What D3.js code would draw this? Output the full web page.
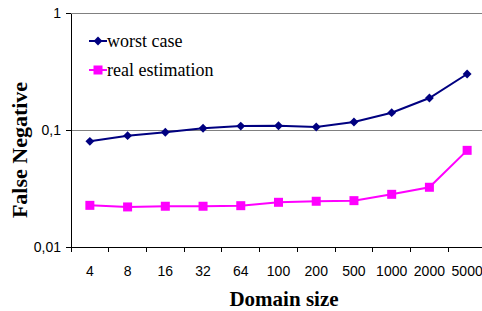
<!DOCTYPE html>
<html><head><meta charset="utf-8">
<script src="https://cdn.jsdelivr.net/npm/d3@7"></script>
<style>html,body{margin:0;padding:0;background:#fff;overflow:hidden}
.serif{font-family:"Liberation Serif","Times New Roman",serif}
.sans{font-family:"Liberation Sans",Arial,sans-serif}</style>
</head><body>
<svg id="c" width="482" height="311"></svg>
<script>
const categories = ["4","8","16","32","64","100","200","500","1000","2000","5000"];
const worstCase = [0.080,0.0894,0.0956,0.1034,0.108,0.1088,0.106,0.117,0.1406,0.1877,0.301];
const realEstimation = [0.0227,0.0220,0.0223,0.0223,0.02255,0.0241,0.0246,0.0249,0.0282,0.0324,0.067];
const yTicks = [0.01,0.1,1];
const yTickLabels = ["0,01","0,1","1"];

const svg = d3.select("#c");
const L=71, R=486, T=13, B=247;
const x = d3.scaleBand().domain(categories).range([L,R]).padding(0);
const y = d3.scaleLog().domain([0.01,1]).range([B,T]);
const cx = d => x(d)+x.bandwidth()/2;

// gridlines
svg.append("g").selectAll("line").data(yTicks.slice(1)).join("line")
  .attr("x1",L).attr("x2",R).attr("y1",d=>Math.round(y(d))+0.5).attr("y2",d=>Math.round(y(d))+0.5)
  .attr("stroke","#808080").attr("stroke-width",1);

// y axis
const ya = svg.append("g").attr("transform",`translate(${L},0)`)
  .call(d3.axisLeft(y).tickValues(yTicks).tickSize(5).tickSizeOuter(0).tickFormat((d,i)=>yTickLabels[i]));
ya.select(".domain").attr("stroke","#000").attr("shape-rendering","crispEdges");
ya.selectAll(".tick line").attr("stroke","#000").attr("shape-rendering","crispEdges");
ya.selectAll("text").attr("class","sans").style("font-size","14px").attr("fill","#000").attr("x",-10);

// x axis
const xa = svg.append("g").attr("transform",`translate(0,${B})`)
  .call(d3.axisBottom(x).tickSize(0).tickSizeOuter(0));
xa.select(".domain").attr("stroke","#000").attr("shape-rendering","crispEdges");
xa.selectAll("text").attr("class","sans").style("font-size","14px").attr("fill","#000").attr("dy","0").attr("y",29);
svg.append("g").selectAll("line").data(categories).join("line")
  .attr("x1",d=>x(d)).attr("x2",d=>x(d)).attr("y1",B).attr("y2",B+5)
  .attr("stroke","#000").attr("shape-rendering","crispEdges");

// series
const line = d3.line().x((d,i)=>cx(categories[i])).y(d=>y(d));
svg.append("path").datum(worstCase).attr("d",line).attr("fill","none").attr("stroke","#000080").attr("stroke-width",2);
svg.append("path").datum(realEstimation).attr("d",line).attr("fill","none").attr("stroke","#FF00FF").attr("stroke-width",2);
const diamond = d3.symbol().type(d3.symbolDiamond2).size(50);
svg.append("g").selectAll("path").data(worstCase).join("path")
  .attr("d",diamond).attr("transform",(d,i)=>`translate(${cx(categories[i])},${y(d)})`).attr("fill","#000080");
svg.append("g").selectAll("rect").data(realEstimation).join("rect")
  .attr("x",(d,i)=>cx(categories[i])-4.5).attr("y",d=>y(d)-4.5).attr("width",9).attr("height",9).attr("fill","#FF00FF");

// legend
const lg = svg.append("g");
lg.append("line").attr("x1",89).attr("x2",107).attr("y1",41).attr("y2",41).attr("stroke","#000080").attr("stroke-width",2);
lg.append("path").attr("d",diamond).attr("transform","translate(98,41)").attr("fill","#000080");
lg.append("text").attr("x",107).attr("y",47).text("worst case");
lg.append("line").attr("x1",89).attr("x2",107).attr("y1",70).attr("y2",70).attr("stroke","#FF00FF").attr("stroke-width",2);
lg.append("rect").attr("x",93.5).attr("y",65.5).attr("width",9).attr("height",9).attr("fill","#FF00FF");
lg.append("text").attr("x",107).attr("y",76).text("real estimation");
lg.selectAll("text").attr("class","serif").style("font-size","18px").attr("fill","#000");

// axis titles
svg.append("text").attr("class","serif").attr("x",284).attr("y",306).attr("text-anchor","middle")
  .style("font-weight","bold").style("font-size","21px").text("Domain size");
svg.append("text").attr("class","serif").attr("transform","translate(27,150) rotate(-90)").attr("text-anchor","middle")
  .style("font-weight","bold").style("font-size","22px").text("False Negative");
</script>
</body></html>
